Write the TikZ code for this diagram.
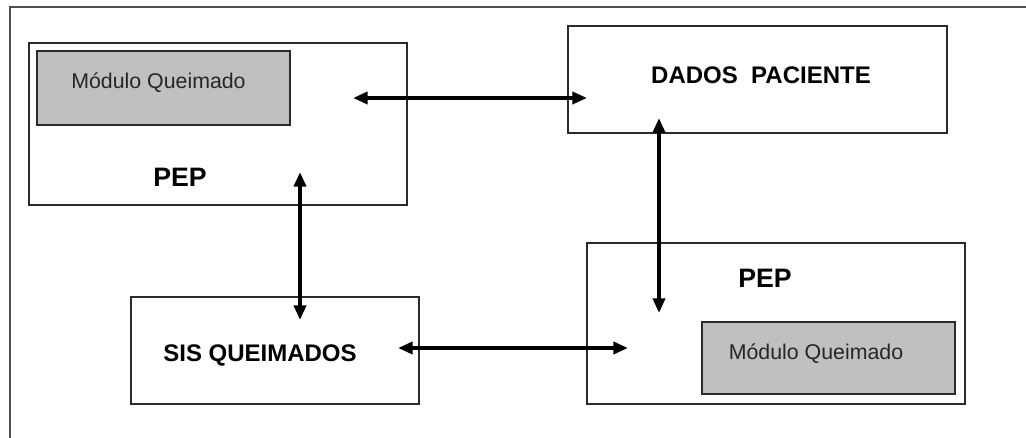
\documentclass[tikz,border=0pt]{standalone}
\usepackage{fontspec}
\setmainfont{Liberation Sans}
\usetikzlibrary{arrows.meta}
\definecolor{boxline}{HTML}{2B2B2B}
\definecolor{modfill}{HTML}{C0C0C0}
\definecolor{frameline}{HTML}{505050}
\def\px{0.75pt}
\tikzset{
  box/.style={draw=boxline, line width=1.2pt, fill=white, inner sep=0pt, outer sep=0pt},
  modbox/.style={box, fill=modfill},
  title/.style={font=\bfseries\fontsize{18}{20}\selectfont, anchor=base, inner sep=0pt},
  peptitle/.style={font=\bfseries\fontsize{20}{22}\selectfont, anchor=base, inner sep=0pt},
  modtext/.style={font=\fontsize{16}{18}\selectfont, text=black!85, anchor=base, inner sep=0pt},
  link/.style={line width=3pt, {Triangle[length=11pt,width=9pt]}-{Triangle[length=11pt,width=9pt]}},
}
\begin{document}
\begin{tikzpicture}[x=0.75pt, y=-0.75pt]
\useasboundingbox (0,0) rectangle (1026,438);
\fill[white] (0,0) rectangle (1026,438);
% open frame: top and left sides only
\draw[frameline, line width=1.5pt] (10,438) -- (10,7.5) -- (1026,7.5);

% upper-left PEP with its burn module
\node[box, minimum width=378*\px, minimum height=162*\px] (pep1) at (218,124) {};
\node[modbox, minimum width=253*\px, minimum height=74*\px] (mod1) at (163.5,88) {};
\node[modtext] (mod1t) at (158.5,89) {Módulo Queimado};
\node[peptitle] (pep1t) at (180,187) {PEP};

% patient data
\node[box, minimum width=379*\px, minimum height=107*\px] (dados) at (757.5,79.5) {};
\node[title] (dadost) at (761,84) {DADOS\ \ PACIENTE};

% burns system
\node[box, minimum width=288*\px, minimum height=107*\px] (sis) at (275,350.5) {};
\node[title] (sist) at (260,362) {SIS QUEIMADOS};

% lower-right PEP with its burn module
\node[box, minimum width=378*\px, minimum height=161*\px] (pep2) at (776,323.5) {};
\node[peptitle] (pep2t) at (765,288) {PEP};
\node[modbox, minimum width=253*\px, minimum height=72*\px] (mod2) at (828.5,358) {};
\node[modtext] (mod2t) at (816,359.5) {Módulo Queimado};

% arrow end points inside the boxes
\coordinate (p1e) at (353,98);
\coordinate (dw) at (587,98);
\coordinate (p1s) at (300,172);
\coordinate (sn) at (300,320);
\coordinate (ds) at (659,118);
\coordinate (p2n) at (659,313);
\coordinate (se) at (398,348);
\coordinate (p2w) at (628,348);

\draw[link] (p1e) -- (dw);
\draw[link] (p1s) -- (sn);
\draw[link] (ds) -- (p2n);
\draw[link] (se) -- (p2w);
\end{tikzpicture}
\end{document}
